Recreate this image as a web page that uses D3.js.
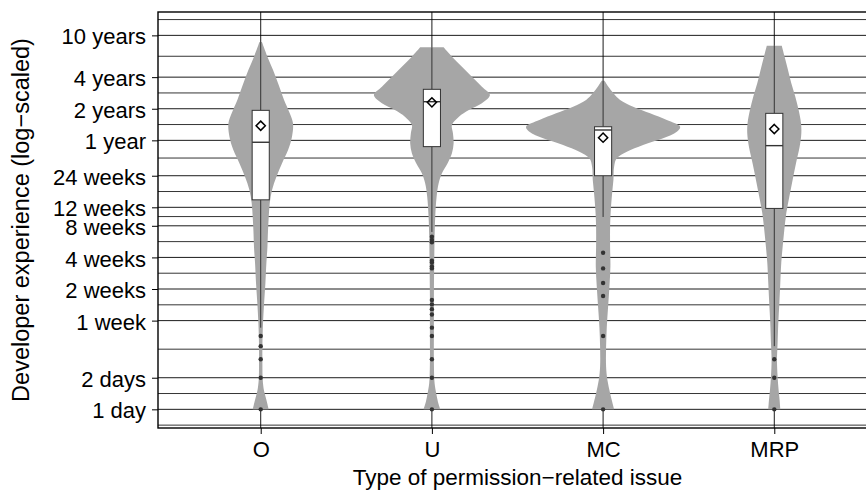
<!DOCTYPE html>
<html>
<head>
<meta charset="utf-8">
<script src="https://cdn.jsdelivr.net/npm/d3@7"></script>
<style>
  html, body { margin: 0; padding: 0; background: #fff; }
  svg text { font-family: "Liberation Sans", Arial, Helvetica, sans-serif; fill: #000; }
</style>
</head>
<body>
<div id="chart"></div>
<script>
const categories = ["O", "U", "MC", "MRP"];

// y axis breaks, in days
const tickDays = [1, 2, 7, 14, 28, 56, 84, 168, 365, 730, 1460, 3650];
const tickLabels = ["1 day", "2 days", "1 week", "2 weeks", "4 weeks", "8 weeks",
    "12 weeks", "24 weeks", "1 year", "2 years", "4 years", "10 years"];
// breaks just outside the panel, only used for the minor grid
const outerBreaks = [0.5, 7300];

// violin outlines: [days, relative density]
const densityO = [[3154, 0.016], [2287, 0.087], [1707, 0.16], [1275, 0.225], [884, 0.303],
    [660, 0.377], [530, 0.419], [395, 0.406], [295, 0.355], [221, 0.277], [164, 0.204],
    [123, 0.147], [92, 0.117], [68, 0.104], [51, 0.095], [35, 0.087], [25, 0.074],
    [16, 0.061], [10, 0.043], [6.6, 0.03], [4, 0.022], [2.7, 0.022], [1.9, 0.026],
    [1.5, 0.043], [1.23, 0.074], [1, 0.104]];
const densityU = [[2809, 0.152], [2286, 0.26], [1836, 0.39], [1474, 0.519], [1184, 0.649],
    [986, 0.753], [823, 0.649], [710, 0.48], [613, 0.351], [511, 0.26], [426, 0.273],
    [342, 0.282], [275, 0.26], [221, 0.204], [177, 0.13], [142, 0.087], [106, 0.061],
    [68, 0.043], [44, 0.035], [25, 0.03], [12, 0.026], [5.7, 0.026], [2.7, 0.026],
    [1.77, 0.035], [1.42, 0.056], [1.18, 0.078], [1, 0.108]];
const densityMC = [[1350, 0.019], [1184, 0.069], [1024, 0.134], [884, 0.221], [763, 0.39],
    [660, 0.61], [570, 0.827], [492, 1.0], [441, 0.957], [382, 0.779], [330, 0.519],
    [284, 0.308], [246, 0.178], [205, 0.143], [153, 0.134], [114, 0.117], [79, 0.1],
    [55, 0.091], [35, 0.091], [23, 0.095], [14.7, 0.082], [9.5, 0.065], [6.1, 0.048],
    [3.95, 0.039], [2.55, 0.039], [1.9, 0.056], [1.42, 0.091], [1, 0.143]];
const densityMRP = [[2908, 0.097], [2286, 0.134], [1707, 0.178], [1275, 0.221], [950, 0.273],
    [710, 0.316], [530, 0.347], [426, 0.351], [317, 0.329], [221, 0.282], [153, 0.238],
    [106, 0.195], [74, 0.156], [51, 0.13], [35, 0.108], [25, 0.091], [16, 0.078],
    [10, 0.065], [6.6, 0.052], [4.25, 0.043], [2.95, 0.035], [2.04, 0.043], [1.53, 0.056],
    [1.23, 0.069], [1, 0.078]];
const densities = [densityO, densityU, densityMC, densityMRP];

// box plot statistics, in days
const q1 = [99, 318, 168, 82];
const medians = [350, 852, 458, 325];
const q3 = [705, 1118, 492, 660];
const means = [503, 840, 387, 468];
const whiskerLow = [6, 49, 68, 4];
const whiskerHigh = [3154, 2809, 1350, 2908];
const outliers = [
    [5, 4, 3, 2, 1],
    [44, 41, 39, 26, 25, 23, 22, 11, 10, 9, 8, 6, 5, 3, 2, 1],
    [31, 22, 16, 12, 5, 1],
    [3, 2, 1]
];

const width = 866, height = 491;
const panel = {left: 158, right: 877, top: 12, bottom: 428};

const svg = d3.select("#chart").append("svg")
    .attr("width", width)
    .attr("height", height)
    .style("background", "#fff");

const x = d3.scalePoint()
    .domain(categories)
    .range([panel.left, panel.right])
    .padding(0.6);

const y = d3.scaleLog()
    .domain([0.664, 6094])
    .range([panel.bottom, panel.top]);

const w = d3.scaleLinear()
    .domain([0, 1])
    .range([0, 0.45 * x.step()]);

// grid: major at breaks, minor halfway between them (log space)
const allBreaks = [outerBreaks[0], ...tickDays, outerBreaks[1]];
const minorDays = d3.pairs(allBreaks).map(([a, b]) => Math.sqrt(a * b));

const grid = svg.append("g");
grid.selectAll("line.minor").data(minorDays).join("line")
    .attr("class", "minor")
    .attr("x1", panel.left).attr("x2", panel.right)
    .attr("y1", d => y(d)).attr("y2", d => y(d))
    .attr("stroke", "#000").attr("stroke-width", 0.8);
grid.selectAll("line.major").data(tickDays).join("line")
    .attr("class", "major")
    .attr("x1", panel.left).attr("x2", panel.right)
    .attr("y1", d => y(d)).attr("y2", d => y(d))
    .attr("stroke", "#000").attr("stroke-width", 0.9);
grid.selectAll("line.vert").data(categories).join("line")
    .attr("class", "vert")
    .attr("x1", d => x(d)).attr("x2", d => x(d))
    .attr("y1", panel.top).attr("y2", panel.bottom)
    .attr("stroke", "#000").attr("stroke-width", 0.9);

// violins
const g = svg.append("g");
categories.forEach((cat, i) => {
    const cx = x(cat);
    const area = d3.area()
        .curve(d3.curveCatmullRom)
        .y(d => y(d[0]))
        .x0(d => cx - w(d[1]))
        .x1(d => cx + w(d[1]));
    g.append("path")
        .datum(densities[i])
        .attr("d", area)
        .attr("fill", "#a6a6a6")
        .attr("stroke", "none");
});

// box plots
const boxHalf = 0.05 * x.step();
categories.forEach((cat, i) => {
    const cx = x(cat);
    const bg = svg.append("g");
    bg.append("line")
        .attr("x1", cx).attr("x2", cx)
        .attr("y1", y(q3[i])).attr("y2", y(whiskerHigh[i]))
        .attr("stroke", "#333").attr("stroke-width", 1);
    bg.append("line")
        .attr("x1", cx).attr("x2", cx)
        .attr("y1", y(q1[i])).attr("y2", y(whiskerLow[i]))
        .attr("stroke", "#333").attr("stroke-width", 1);
    bg.append("rect")
        .attr("x", cx - boxHalf)
        .attr("y", y(q3[i]))
        .attr("width", 2 * boxHalf)
        .attr("height", y(q1[i]) - y(q3[i]))
        .attr("fill", "#fff")
        .attr("stroke", "#333").attr("stroke-width", 1);
    bg.append("line")
        .attr("x1", cx - boxHalf).attr("x2", cx + boxHalf)
        .attr("y1", y(medians[i])).attr("y2", y(medians[i]))
        .attr("stroke", "#333").attr("stroke-width", 1.4);
    bg.selectAll("circle").data(outliers[i]).join("circle")
        .attr("cx", cx)
        .attr("cy", d => y(d))
        .attr("r", 2.2)
        .attr("fill", "#333");
    const my = y(means[i]), s = 4.6;
    bg.append("path")
        .attr("d", `M${cx},${my - s}L${cx + s},${my}L${cx},${my + s}L${cx - s},${my}Z`)
        .attr("fill", "none")
        .attr("stroke", "#000").attr("stroke-width", 1.5);
});

// axes
const yAxis = svg.append("g")
    .attr("transform", `translate(${panel.left},0)`)
    .call(d3.axisLeft(y).tickValues(tickDays).tickFormat((d, i) => tickLabels[i])
        .tickSize(6).tickPadding(6));
yAxis.select(".domain").remove();
yAxis.selectAll("text").attr("dy", "0.39em");

const xAxis = svg.append("g")
    .attr("transform", `translate(0,${panel.bottom})`)
    .call(d3.axisBottom(x).tickSize(6).tickPadding(7));
xAxis.select(".domain").remove();

svg.selectAll(".tick line").attr("stroke", "#000").attr("stroke-width", 1);
svg.selectAll(".tick text")
    .attr("font-family", "'Liberation Sans', Arial, sans-serif")
    .attr("font-size", 22)
    .attr("fill", "#000");

// panel border
svg.append("rect")
    .attr("x", panel.left).attr("y", panel.top)
    .attr("width", panel.right - panel.left)
    .attr("height", panel.bottom - panel.top)
    .attr("fill", "none")
    .attr("stroke", "#000").attr("stroke-width", 1.4);

// titles
svg.append("text")
    .attr("x", (panel.left + panel.right) / 2)
    .attr("y", 485)
    .attr("text-anchor", "middle")
    .attr("font-size", 22.5)
    .text("Type of permission\u2212related issue");

svg.append("text")
    .attr("transform", `translate(29,${(panel.top + panel.bottom) / 2}) rotate(-90)`)
    .attr("text-anchor", "middle")
    .attr("font-size", 23.5)
    .text("Developer experience (log\u2212scaled)");
</script>
</body>
</html>
